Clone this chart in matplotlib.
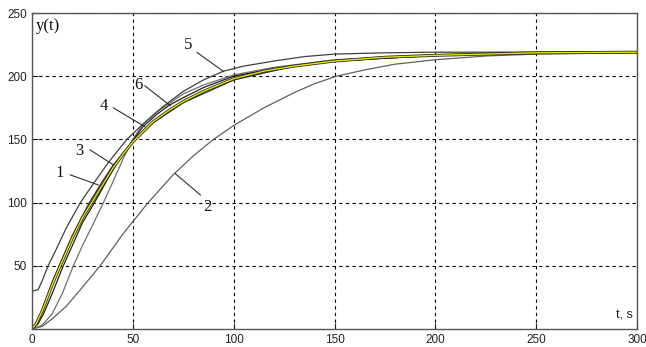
import matplotlib
matplotlib.use('Agg')
import matplotlib.pyplot as plt

# curve 1 (yellow)
t1 = [0, 2, 5, 10, 14, 20, 25, 29.6, 35, 40, 45, 50, 55, 60, 68, 75, 85, 100, 115, 130, 150, 175, 200, 250, 300]
y1 = [0, 4, 14, 35, 50, 72, 88, 100, 114, 127, 138, 148, 156, 164, 173, 180, 188, 198, 204, 208, 212, 215, 216.5, 218.5, 219]
# curve 2 (slowest)
t2 = [0, 5, 10, 17, 25, 33.8, 45, 57.6, 70, 80, 90, 100, 115, 130, 140, 151, 165, 180, 200, 225, 250, 300]
y2 = [0, 2, 8, 18, 33, 50, 75, 100, 122, 137, 150, 161, 175, 187, 194, 200, 205, 209.5, 213, 216, 217.5, 218.5]
# curve 3
t3 = [0, 2, 5, 10, 13.5, 20, 28.5, 35, 40, 45, 50, 60, 75, 100, 130, 150, 200, 250, 300]
y3 = [0, 4, 15, 37, 50, 74, 100, 117, 129, 139, 148, 163, 179, 197, 208, 212, 216.5, 218.5, 219]
# curve 4
t4 = [0, 3, 6, 10, 15.5, 20, 25, 31, 38, 44, 50, 55, 62, 68, 75, 85, 100, 120, 150, 200, 250, 300]
y4 = [0, 4, 13, 28, 50, 66, 84, 100, 120, 136, 149, 160, 170, 177, 183, 191, 200, 206, 212, 216.5, 218.5, 219]
# curve 5 (starts at 30)
t5 = [0, 3, 5, 8, 12, 17, 24, 30, 38, 47, 55, 65, 75, 85, 95, 105, 120, 135, 150, 175, 200, 250, 300]
y5 = [30, 31, 38, 50, 63, 80, 100, 114, 132, 150, 162, 176, 188, 197, 204, 208, 212, 215.5, 217.5, 218.5, 219, 219, 219]
# curve 6
t6 = [0, 5, 10, 15, 20.5, 25, 30, 35.4, 40, 45, 50, 55, 62, 68.5, 75, 85, 100, 120, 150, 200, 250, 300]
y6 = [0, 3, 12, 28, 50, 66, 82, 100, 116, 134, 150, 162, 172, 179, 186, 193, 201, 207, 213, 217, 218.5, 219]

# curve labels: text, text position, leader start, leader end
labels = ['1', '2', '3', '4', '5', '6']
lab_xy = [(13.9, 123.5), (86.8, 96.3), (23.5, 141), (35.8, 176.6), (77.5, 225), (52.7, 193)]
lead_from = [(18.9, 122), (83.5, 106), (28.8, 141.7), (40.3, 175), (81.8, 218.8), (56, 192.4)]
lead_to = [(32.8, 114), (71, 123), (40.4, 129.8), (56, 160), (95, 203.7), (68.6, 176.6)]

fig = plt.figure(figsize=(6.46, 3.47), dpi=100)
ax = fig.add_axes([32/646, 18/347, 605/646, 316/347])

ax.plot(t2, y2, color='#606060', lw=0.9)
ax.plot(t6, y6, color='#707070', lw=0.9)
ax.plot(t5, y5, color='#404040', lw=0.9)
ax.plot(t4, y4, color='#202020', lw=0.9)
ax.plot(t3, y3, color='#303030', lw=0.9)
ax.plot(t1, y1, color='#202020', lw=2.1)
ax.plot(t1, y1, color='#e8e800', lw=1.0)

for s, p, a, b in zip(labels, lab_xy, lead_from, lead_to):
    ax.plot([a[0], b[0]], [a[1], b[1]], color='#303030', lw=0.8)
    ax.text(p[0], p[1], s, fontsize=12, family='Liberation Serif',
            ha='center', va='center', color='#111111')

ax.text(8, 240, 'y(t)', fontsize=12, family='Liberation Serif',
        ha='center', va='center', color='#111111')
ax.text(298, 6, 't, s', fontsize=9, family='Liberation Sans',
        ha='right', va='bottom', color='#222222')

ax.set_xlim(0, 300)
ax.set_ylim(0, 250)
ax.set_xticks([0, 50, 100, 150, 200, 250, 300])
ax.set_yticks([50, 100, 150, 200, 250])
ax.grid(True, color='k', linestyle=(0, (3, 3)), lw=0.8)
ax.tick_params(direction='in', length=4, labelsize=8.5, colors='#222222',
               top=False, right=False)
for lab in ax.get_xticklabels() + ax.get_yticklabels():
    lab.set_family('Liberation Sans')
for sp in ax.spines.values():
    sp.set_color('#555555')
    sp.set_linewidth(1)

fig.savefig('out.png', dpi=100)
